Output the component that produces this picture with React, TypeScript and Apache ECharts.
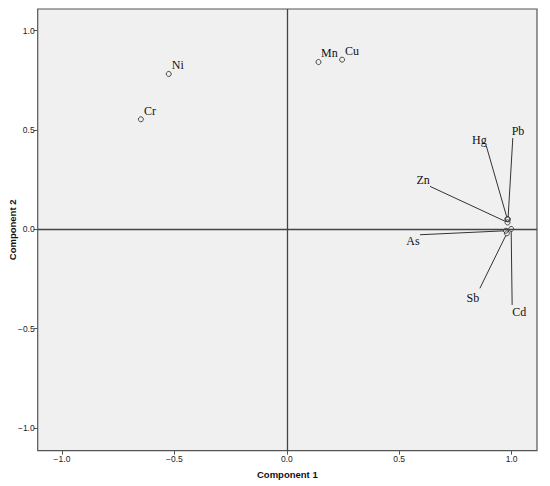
import React, { useEffect, useRef } from "react";
import * as echarts from "echarts";

const elements = ["Ni", "Cr", "Mn", "Cu", "Hg", "Pb", "Zn", "As", "Sb", "Cd"];
const component1 = [-0.525, -0.649, 0.141, 0.246, 0.981, 0.984, 0.982, 0.975, 0.979, 0.998];
const component2 = [0.782, 0.554, 0.842, 0.854, 0.052, 0.05, 0.035, -0.007, -0.02, 0.002];
const tickValues = [-1, -0.5, 0, 0.5, 1];

// label placement in pixels relative to the point
const labelPlacement: Record<string, { line: [number, number] | null; text: [number, number]; align: string }> = {
  Ni: { line: null, text: [3, -8.5], align: "left" },
  Cr: { line: null, text: [3, -8.5], align: "left" },
  Mn: { line: null, text: [2.5, -9], align: "left" },
  Cu: { line: null, text: [3, -8.5], align: "left" },
  Pb: { line: [4.8, -81.4], text: [10, -88], align: "center" },
  Hg: { line: [-21, -73], text: [-28, -79], align: "center" },
  Zn: { line: [-77.5, -36], text: [-84.5, -42], align: "center" },
  As: { line: [-86, 4], text: [-93, 10], align: "center" },
  Sb: { line: [-27, 55], text: [-34, 65], align: "center" },
  Cd: { line: [1, 76], text: [8, 83], align: "center" },
};

const fmt = (v: number) => v.toFixed(1).replace("-", "\u2212");

export default function App() {
  const ref = useRef<HTMLDivElement>(null);
  useEffect(() => {
    if (!ref.current) return;
    const chart = echarts.init(ref.current, null, { renderer: "svg" });
    const points = elements.map((n, i) => [component1[i], component2[i], n]);
    const axisCommon = {
      type: "value" as const,
      axisLine: { show: false, onZero: false },
      axisTick: {
        show: true,
        inside: false,
        length: 4,
        customValues: tickValues,
        lineStyle: { color: "#555", width: 1 },
      },
      axisLabel: {
        customValues: tickValues,
        formatter: fmt,
        fontFamily: "Liberation Sans, Arial, sans-serif",
        fontSize: 8.5,
        color: "#222",
      },
      splitLine: { show: false },
      nameLocation: "middle" as const,
      nameMoveOverlap: false,
      nameTextStyle: {
        fontFamily: "Liberation Sans, Arial, sans-serif",
        fontWeight: "bold" as const,
        fontSize: 9.5,
        color: "#111",
      },
    };
    chart.setOption({
      animation: false,
      backgroundColor: "#ffffff",
      grid: {
        left: 37.7,
        top: 9,
        right: 13,
        bottom: 35.3,
        containLabel: false,
        outerBoundsMode: "none",
        show: true,
        backgroundColor: "#F0F0F0",
        borderColor: "#555",
        borderWidth: 1.2,
      },
      xAxis: {
        ...axisCommon,
        position: "bottom",
        min: -1.108,
        max: 1.113,
        name: "Component 1",
        nameGap: 19,
        axisLabel: { ...axisCommon.axisLabel, margin: 4 },
      },
      yAxis: {
        ...axisCommon,
        position: "left",
        min: -1.114,
        max: 1.109,
        name: "Component 2",
        nameGap: 20,
        axisLabel: { ...axisCommon.axisLabel, margin: 3 },
      },
      series: [
        {
          type: "custom",
          data: points,
          z: 3,
          silent: true,
          renderItem: (params: any, api: any) => {
            const name = elements[params.dataIndex];
            const p = api.coord([api.value(0), api.value(1)]);
            const pl = labelPlacement[name];
            const children: any[] = [];
            if (pl.line) {
              const dx = pl.line[0];
              const dy = pl.line[1];
              const len = Math.sqrt(dx * dx + dy * dy);
              const r = 2.5;
              children.push({
                type: "line",
                shape: {
                  x1: p[0] + (dx / len) * r,
                  y1: p[1] + (dy / len) * r,
                  x2: p[0] + dx,
                  y2: p[1] + dy,
                },
                style: { stroke: "#333", lineWidth: 1 },
              });
            }
            children.push({
              type: "text",
              x: p[0] + pl.text[0],
              y: p[1] + pl.text[1],
              style: {
                text: name,
                fontFamily: "Liberation Serif, Times New Roman, serif",
                fontSize: 12,
                fill: "#111",
                align: pl.align,
                verticalAlign: "middle",
              },
            });
            return { type: "group", children };
          },
        },
        {
          type: "scatter",
          data: points,
          symbol: "circle",
          symbolSize: 5,
          z: 4,
          itemStyle: { color: "rgba(240,240,240,0)", borderColor: "#222", borderWidth: 1 },
          markLine: {
            silent: true,
            symbol: ["none", "none"],
            label: { show: false },
            lineStyle: { color: "#444", type: "solid", width: 1.3 },
            data: [{ xAxis: 0 }, { yAxis: 0 }],
          },
        },
      ],
    });
    return () => chart.dispose();
  }, []);
  return <div ref={ref} style={{ width: 550, height: 486, position: "absolute", left: 0, top: 0 }} />;
}
